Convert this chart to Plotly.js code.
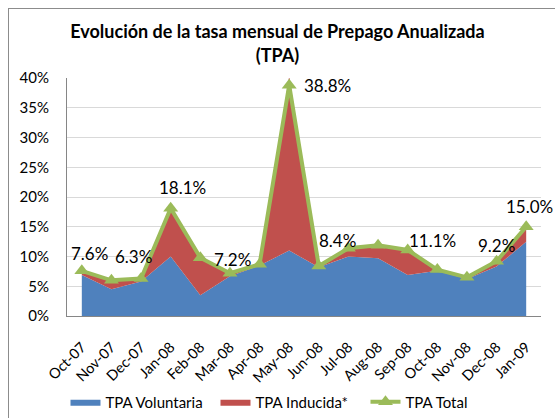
<!DOCTYPE html>
<html>
<head>
<meta charset="utf-8">
<script src="https://cdn.plot.ly/plotly-3.0.1.min.js"></script>
<style>
  html, body { margin: 0; padding: 0; background: #fff; overflow: hidden; }
  #wrap { position: relative; width: 555px; height: 418px; }
  #chart { position: absolute; left: 0; top: 0; width: 555px; height: 418px; }
  #frame { position: absolute; left: 8px; top: 8px; width: 560px; height: 430px;
           border: 1px solid #8c8c8c; pointer-events: none; }
</style>
</head>
<body>
<div id="wrap"><div id="chart"></div><div id="frame"></div></div>
<script>
const months = ["Oct-07","Nov-07","Dec-07","Jan-08","Feb-08","Mar-08","Apr-08","May-08",
                "Jun-08","Jul-08","Aug-08","Sep-08","Oct-08","Nov-08","Dec-08","Jan-09"];
const voluntaria = [6.9, 4.5, 5.8, 10.0, 3.5, 6.7, 8.5, 11.0, 8.2, 10.0, 9.7, 6.9, 7.6, 6.2, 8.3, 12.5];
const inducida   = [0.7, 1.3, 0.5, 8.1, 6.3, 0.5, 0.2, 29.3, 0.2, 1.4, 2.2, 4.2, 0.2, 0.1, 0.9, 2.5];
const total      = [7.6, 6.0, 6.3, 18.1, 9.8, 7.2, 8.7, 38.8, 8.4, 11.4, 11.9, 11.1, 7.8, 6.5, 9.2, 15.0];
const labelled   = ["Oct-07","Dec-07","Jan-08","Mar-08","May-08","Jun-08","Sep-08","Dec-08","Jan-09"];
const yTicks     = [0, 5, 10, 15, 20, 25, 30, 35, 40];
const yTickText  = ["0%","5%","10%","15%","20%","25%","30%","35%","40%"];

// label offsets (pixels) — styling only
const labelShift = {
  "Oct-07": [8, 17], "Dec-07": [-8, 22], "Jan-08": [12, 21], "Mar-08": [3, 14],
  "May-08": [38, 0], "Jun-08": [19, 26], "Sep-08": [25, 9], "Dec-08": [0, 16], "Jan-09": [3, 20]
};

const font = "Lato, 'Open Sans', sans-serif";

const traces = [
  { x: months, y: voluntaria, name: "TPA Voluntaria", type: "scatter", mode: "lines",
    stackgroup: "one", line: { width: 0, color: "#4f81bd" }, fillcolor: "#4f81bd" },
  { x: months, y: inducida, name: "TPA Inducida*", type: "scatter", mode: "lines",
    stackgroup: "one", line: { width: 0, color: "#c0504d" }, fillcolor: "#c0504d" },
  { x: months, y: total, name: "TPA Total", type: "scatter", mode: "lines+markers",
    line: { width: 4, color: "#9bbb59" },
    marker: { symbol: "triangle-up", size: 13, color: "#9bbb59" } }
];

const annotations = labelled.map(m => {
  const i = months.indexOf(m);
  const s = labelShift[m];
  return { x: m, y: total[i], xref: "x", yref: "y", text: total[i].toFixed(1) + "%",
           showarrow: false, xshift: s[0], yshift: s[1],
           font: { family: font, size: 17, color: "#000" } };
});

const layout = {
  width: 555, height: 418,
  margin: { l: 67, r: 14, t: 78, b: 102 },
  paper_bgcolor: "#fff", plot_bgcolor: "#fff",
  title: { text: "<b>Evolución de la tasa mensual de Prepago Anualizada<br>(TPA)</b>",
           font: { family: font, size: 18, color: "#000" }, x: 0.5, xanchor: "center",
           y: 0.908, yanchor: "top" },
  xaxis: { type: "category", range: [-0.5, 15.5], tickangle: -45, showgrid: false,
           showline: true, linecolor: "#868686", linewidth: 1, ticks: "",
           ticklabelstandoff: 16, automargin: false,
           tickfont: { family: font, size: 14.5, color: "#000" }, fixedrange: true },
  yaxis: { range: [0, 40], tickvals: yTicks, ticktext: yTickText, showgrid: true,
           gridcolor: "#d9d9d9", gridwidth: 1, showline: true, linecolor: "#868686",
           linewidth: 1, ticks: "", zeroline: false, ticklabelstandoff: 14, automargin: false,
           tickfont: { family: font, size: 15, color: "#000" }, fixedrange: true },
  showlegend: true,
  legend: { orientation: "h", xref: "container", yref: "container",
            x: 0.118, xanchor: "left", y: 0.038, yanchor: "middle",
            entrywidth: 105, entrywidthmode: "pixels",
            font: { family: font, size: 15, color: "#000" }, traceorder: "normal" },
  annotations: annotations
};

Plotly.newPlot("chart", traces, layout, { staticPlot: true, displayModeBar: false });
</script>
</body>
</html>
